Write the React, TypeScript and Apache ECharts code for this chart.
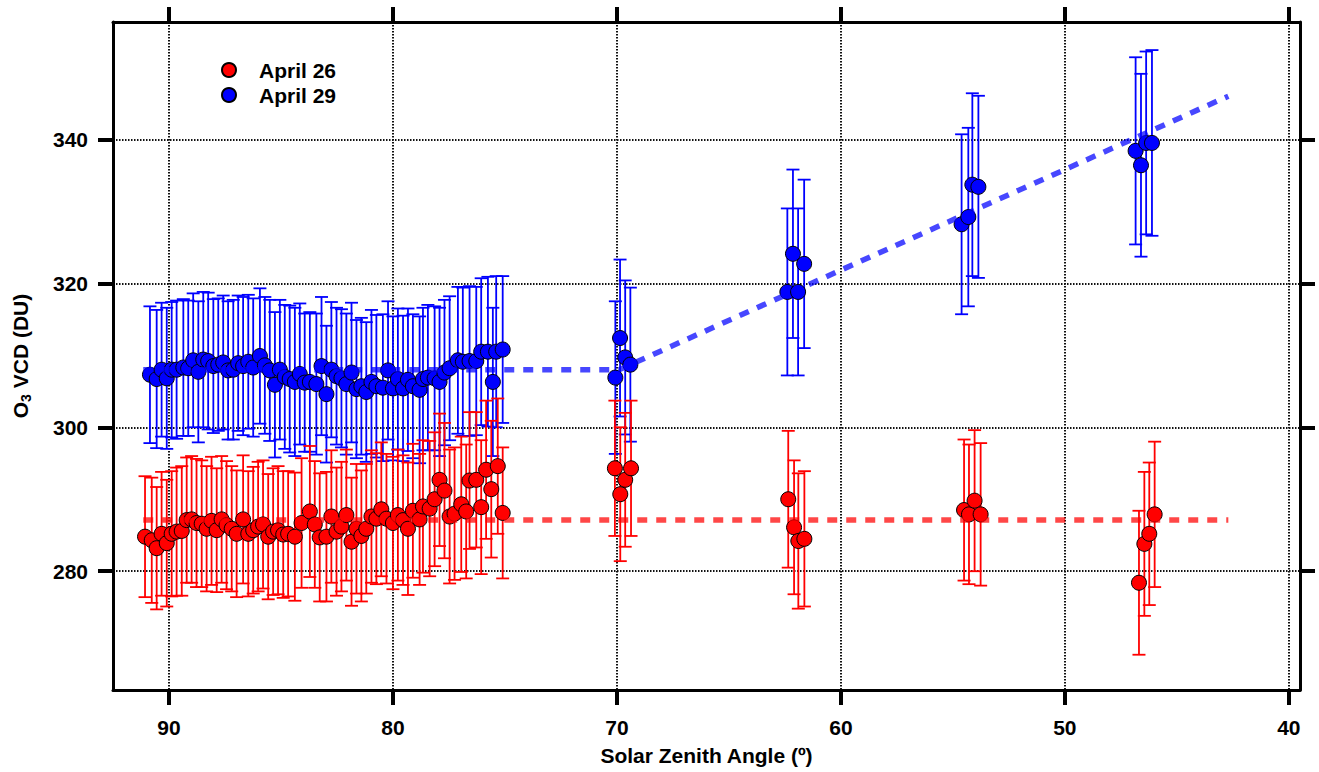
import React, { useEffect, useRef } from 'react';
import * as echarts from 'echarts';

const FONT = '"Liberation Sans", Arial, Helvetica, sans-serif';

// Tick values
const xTicks = [40, 50, 60, 70, 80, 90];
const yTicks = [280, 300, 320, 340];

// April 26 (red)
const sza26 = [
  91.07, 90.77, 90.55, 90.33, 90.10, 89.88, 89.66, 89.43, 89.21, 88.99,
  88.77, 88.54, 88.32, 88.10, 87.87, 87.65, 87.43, 87.20, 86.98, 86.69,
  86.46, 86.24, 86.02, 85.80, 85.57, 85.35, 85.13, 84.90, 84.68, 84.38,
  84.08, 83.71, 83.49, 83.27, 82.97, 82.75, 82.52, 82.30, 82.08, 81.85,
  81.63, 81.41, 81.19, 80.96, 80.74, 80.52, 80.29, 80.00, 79.78, 79.55,
  79.33, 79.11, 78.81, 78.66, 78.36, 78.14, 77.92, 77.70, 77.47, 77.25,
  76.95, 76.73, 76.58, 76.28, 76.06, 75.84, 75.61, 75.32, 75.10,
  70.09, 69.85, 69.63, 69.37, 62.35, 62.09, 61.90, 61.63,
  54.50, 54.28, 54.03, 53.76, 46.69, 46.45, 46.23, 45.99,
];
const vcd26 = [
  284.8, 284.3, 283.2, 285.2, 283.9, 285.2, 285.5, 285.6, 287.1, 287.2,
  286.7, 286.6, 285.9, 287.0, 285.7, 287.2, 286.4, 285.9, 285.2, 287.2,
  285.2, 285.7, 286.2, 286.5, 284.8, 285.5, 285.7, 285.1, 285.2, 284.8,
  286.7, 288.3, 286.5, 284.7, 284.8, 287.6, 285.5, 286.2, 287.8, 284.1,
  285.9, 284.9, 285.9, 287.6, 287.3, 288.6, 287.3, 286.7, 287.8, 287.1,
  285.9, 288.4, 287.2, 289.0, 288.7, 290.0, 292.7, 291.2, 287.6, 288.0,
  289.3, 288.3, 292.6, 292.7, 288.9, 294.1, 291.4, 294.6, 288.1,
  294.3, 290.7, 292.7, 294.3, 290.0, 286.1, 284.2, 284.5,
  288.5, 287.9, 289.8, 287.9, 278.4, 283.8, 285.2, 287.9,
];
const err26 = [
  8.4, 8.7, 8.5, 8.6, 8.8, 8.7, 8.9, 9.0, 8.7, 8.8,
  8.9, 8.8, 8.7, 8.9, 8.6, 8.8, 8.9, 8.7, 8.8, 8.9,
  8.7, 8.8, 9.0, 8.9, 8.7, 8.8, 8.9, 8.8, 8.7, 8.9,
  9.0, 9.1, 8.8, 8.9, 9.0, 9.2, 8.9, 9.0, 9.1, 8.9,
  9.0, 9.1, 9.0, 9.2, 9.1, 9.3, 9.0, 9.2, 9.1, 9.0,
  9.2, 9.3, 9.1, 9.2, 9.4, 9.3, 9.2, 9.4, 9.3, 9.2,
  9.4, 9.3, 9.5, 9.4, 9.3, 9.6, 9.5, 9.4, 9.1,
  9.4, 9.3, 9.3, 9.4, 9.5, 9.3, 9.4, 9.4,
  9.8, 9.7, 9.8, 9.9, 10.0, 10.0, 9.9, 10.1,
];

// April 29 (blue)
const sza29 = [
  90.85, 90.55, 90.33, 90.10, 89.88, 89.66, 89.36, 89.14, 88.92, 88.69,
  88.47, 88.25, 88.02, 87.80, 87.58, 87.36, 87.13, 86.91, 86.69, 86.46,
  86.24, 85.94, 85.72, 85.50, 85.27, 85.05, 84.83, 84.61, 84.38, 84.16,
  83.94, 83.71, 83.42, 83.19, 82.97, 82.75, 82.52, 82.30, 82.08, 81.85,
  81.63, 81.41, 81.19, 80.96, 80.74, 80.45, 80.22, 80.00, 79.78, 79.55,
  79.33, 79.11, 78.81, 78.66, 78.44, 78.14, 77.92, 77.70, 77.47, 77.10,
  76.88, 76.58, 76.28, 76.06, 75.76, 75.54, 75.39, 75.10,
  70.07, 69.86, 69.63, 69.40, 62.39, 62.14, 61.91, 61.64,
  54.61, 54.31, 54.13, 53.86, 46.84, 46.60, 46.37, 46.11,
];
const vcd29 = [
  307.3, 306.7, 308.0, 306.8, 308.0, 308.0, 308.3, 308.2, 309.3, 307.7,
  309.4, 309.2, 308.5, 308.7, 309.0, 307.9, 308.0, 308.9, 308.5, 309.1,
  308.3, 309.9, 308.6, 307.9, 305.9, 308.0, 307.0, 306.7, 306.3, 307.4,
  306.2, 306.3, 306.0, 308.5, 304.6, 308.0, 307.1, 306.8, 306.0, 307.6,
  305.3, 305.7, 304.9, 306.3, 305.7, 305.5, 307.9, 305.4, 306.7, 305.4,
  306.6, 305.7, 305.2, 306.7, 306.9, 306.8, 306.3, 307.6, 308.2, 309.3,
  309.1, 309.2, 309.2, 310.5, 310.5, 306.3, 310.5, 310.8,
  306.9, 312.4, 309.7, 308.7, 318.8, 324.1, 318.8, 322.7,
  328.2, 329.2, 333.7, 333.4, 338.4, 336.4, 339.5, 339.5,
];
const err29 = [
  9.5, 9.6, 9.3, 9.8, 9.4, 9.6, 9.5, 9.4, 9.3, 9.8,
  9.4, 9.5, 9.3, 9.2, 9.3, 9.6, 9.7, 9.4, 9.6, 9.3,
  9.6, 9.4, 9.5, 9.8, 10.1, 9.7, 10.0, 10.2, 10.3, 9.8,
  9.6, 9.7, 9.8, 9.6, 9.5, 9.4, 9.5, 9.6, 9.8, 9.7,
  9.6, 9.5, 9.7, 10.0, 9.9, 10.2, 9.6, 10.0, 9.8, 10.1,
  9.9, 10.0, 10.2, 9.9, 10.1, 10.0, 10.3, 10.1, 10.0, 10.2,
  10.3, 10.4, 10.3, 10.2, 10.4, 10.3, 10.5, 10.2,
  10.6, 10.9, 10.7, 10.7, 11.6, 11.7, 11.6, 11.7,
  12.5, 12.4, 12.7, 12.65, 13.0, 12.7, 12.7, 12.9,
];

// Fit lines (breakpoints)
const fit26X = [91.15, 42.7];
const fit26Y = [287.1, 287.1];
const fit29X = [91.15, 69.9, 42.7];
const fit29Y = [308.0, 308.0, 346.0];

const RED = '#ff0000';
const BLUE = '#0000ff';

function errorBarSeries(name: string, xs: number[], ys: number[], es: number[], color: string, z: number) {
  return {
    type: 'custom',
    name,
    z,
    silent: true,
    encode: { x: 0, y: [1, 2] },
    data: xs.map((x, i) => [x, ys[i] - es[i], ys[i] + es[i]]),
    renderItem: (params: any, api: any) => {
      const x = api.value(0);
      const lo = api.coord([x, api.value(1)]);
      const hi = api.coord([x, api.value(2)]);
      const w = 6.5;
      const style = { stroke: color, lineWidth: 1.8, fill: null };
      return {
        type: 'group',
        children: [
          { type: 'line', shape: { x1: hi[0], y1: hi[1], x2: lo[0], y2: lo[1] }, style },
          { type: 'line', shape: { x1: hi[0] - w, y1: hi[1], x2: hi[0] + w, y2: hi[1] }, style },
          { type: 'line', shape: { x1: lo[0] - w, y1: lo[1], x2: lo[0] + w, y2: lo[1] }, style },
        ],
      };
    },
  };
}

const axisCommon = {
  type: 'value' as const,
  axisLine: { show: true, onZero: false, lineStyle: { color: '#000', width: 3 } },
  axisTick: { show: true, length: 15, lineStyle: { color: '#000', width: 4 } },
};

const labelStyle = { color: '#000', fontFamily: FONT, fontWeight: 'bold' as const, fontSize: 21 };

export default function App() {
  const ref = useRef<HTMLDivElement>(null);
  useEffect(() => {
    const chart = echarts.init(ref.current!, null, { renderer: 'svg' });
    const option: any = {
      animation: false,
      backgroundColor: '#fff',
      grid: { left: 113, right: 19, top: 22, bottom: 82, containLabel: false },
      legend: {
        data: ['April 26', 'April 29'],
        orient: 'vertical',
        left: 221,
        top: 59,
        padding: 0,
        itemGap: 3,
        itemWidth: 14,
        itemHeight: 14,
        icon: 'circle',
        selectedMode: false,
        textStyle: { ...labelStyle, fontSize: 21, lineHeight: 22, padding: [0, 0, 0, 18] },
      },
      xAxis: [
        {
          ...axisCommon,
          position: 'bottom',
          inverse: true,
          min: 39.5,
          max: 92.5,
          axisTick: { ...axisCommon.axisTick, customValues: xTicks },
          axisLabel: { ...labelStyle, margin: 27, customValues: xTicks },
          splitLine: { show: true, lineStyle: { color: '#111', width: 2, type: [1.5, 1.5] } },
          name: 'Solar Zenith Angle (º)',
          nameLocation: 'middle',
          nameGap: 55,
          nameTextStyle: { ...labelStyle },
        },
        {
          ...axisCommon,
          position: 'top',
          inverse: true,
          min: 39.5,
          max: 92.5,
          axisTick: { ...axisCommon.axisTick, customValues: xTicks },
          axisLabel: { show: false, customValues: xTicks },
          splitLine: { show: false },
        },
      ],
      yAxis: [
        {
          ...axisCommon,
          position: 'left',
          min: 263.5,
          max: 356.3,
          axisTick: { ...axisCommon.axisTick, customValues: yTicks },
          axisLabel: { ...labelStyle, margin: 25, customValues: yTicks },
          splitLine: { show: true, lineStyle: { color: '#111', width: 2, type: [1.5, 1.5] } },
          name: '{a|O}{sub|3}{a| VCD (DU)}',
          nameLocation: 'middle',
          nameGap: 80,
          nameTextStyle: {
            ...labelStyle,
            rich: {
              a: { fontFamily: FONT, fontWeight: 'bold', fontSize: 21, color: '#000', lineHeight: 26 },
              sub: { fontFamily: FONT, fontWeight: 'bold', fontSize: 14, color: '#000', lineHeight: 14, verticalAlign: 'bottom' },
            },
          },
        },
        {
          ...axisCommon,
          position: 'right',
          min: 263.5,
          max: 356.3,
          axisTick: { ...axisCommon.axisTick, customValues: yTicks },
          axisLabel: { show: false, customValues: yTicks },
          splitLine: { show: false },
        },
      ],
      series: [
        errorBarSeries('err29', sza29, vcd29, err29, BLUE, 2),
        errorBarSeries('err26', sza26, vcd26, err26, RED, 2),
        {
          type: 'scatter',
          name: 'April 29',
          z: 3,
          symbol: 'circle',
          symbolSize: 15,
          data: sza29.map((x, i) => [x, vcd29[i]]),
          itemStyle: { color: BLUE, borderColor: '#000', borderWidth: 1, opacity: 1 },
        },
        {
          type: 'scatter',
          name: 'April 26',
          z: 3,
          symbol: 'circle',
          symbolSize: 15,
          data: sza26.map((x, i) => [x, vcd26[i]]),
          itemStyle: { color: RED, borderColor: '#000', borderWidth: 1, opacity: 1 },
        },
        {
          type: 'line',
          name: 'fit26',
          z: 4,
          silent: true,
          showSymbol: false,
          symbol: 'none',
          data: fit26X.map((x, i) => [x, fit26Y[i]]),
          lineStyle: { color: 'rgba(255,0,0,0.72)', width: 5.5, type: [10, 9] },
        },
        {
          type: 'line',
          name: 'fit29',
          z: 4,
          silent: true,
          showSymbol: false,
          symbol: 'none',
          data: fit29X.map((x, i) => [x, fit29Y[i]]),
          lineStyle: { color: 'rgba(0,0,255,0.72)', width: 5.5, type: [10, 9] },
        },
      ],
    };
    chart.setOption(option);
    return () => chart.dispose();
  }, []);
  return (
    <div
      ref={ref}
      style={{ position: 'absolute', left: 0, top: 0, width: 1319, height: 772, background: '#fff' }}
    />
  );
}
